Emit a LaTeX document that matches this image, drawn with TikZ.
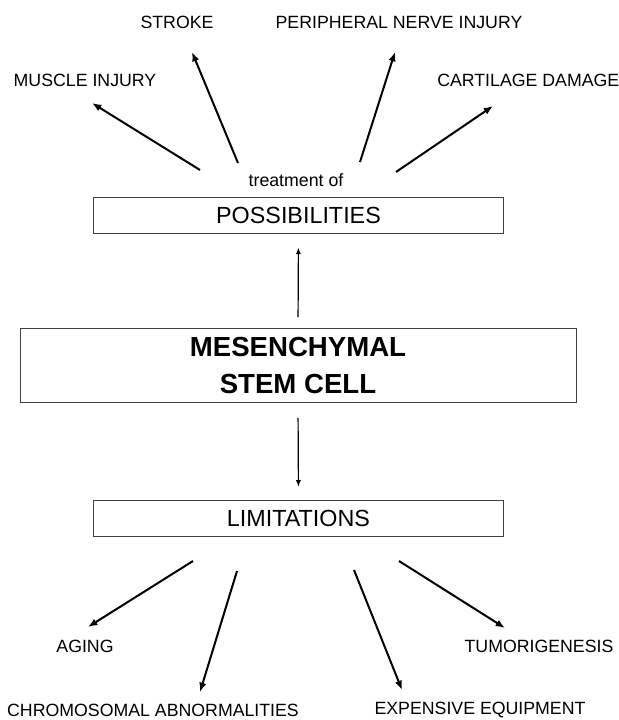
\documentclass[tikz,border=0pt]{standalone}
\usepackage{fontspec}
\setmainfont{Liberation Sans}
\usetikzlibrary{arrows.meta}

\begin{document}
\begin{tikzpicture}[
  x=0.75pt,y=-0.75pt,
  lbl/.style={inner sep=0pt,font=\fontsize{13.3}{16}\selectfont},
  box/.style={draw=black!75,line width=0.7pt,minimum width=308pt,minimum height=27pt,
    inner sep=0pt,font=\fontsize{17.5}{21}\selectfont},
  cellbox/.style={box,minimum width=417pt,minimum height=56pt,align=center,
    font=\fontsize{20.7}{27.8}\selectfont\bfseries},
  ray/.style={-{Latex[length=7pt,width=5.5pt]},line width=1.5pt},
  link/.style={-{Latex[length=5pt,width=3.8pt]},line width=0.9pt},
]
\useasboundingbox (0,0) rectangle (618,720);

% boxes
\node[box] (poss) at (298.5,215) {POSSIBILITIES};
\node[cellbox] (msc) at (298,365.5) {MESENCHYMAL\\STEM CELL};
\node[box] (lim) at (298.5,518) {LIMITATIONS};
\draw[link,shorten <=8pt,shorten >=10.5pt] (msc.north) -- (poss.south);
\draw[link,shorten <=11pt,shorten >=9.5pt] (msc.south) -- (lim.north);

% possibilities
\node[lbl] (treat) at (296,180) {treatment of};
\node[lbl] (muscle) at (85,80) {MUSCLE INJURY};
\node[lbl] (stroke) at (177,22) {STROKE};
\node[lbl] (nerve) at (399,22) {PERIPHERAL NERVE INJURY};
\node[lbl,anchor=west] (cart) at (437,80) {CARTILAGE DAMAGE};
\coordinate (t1) at (200,170);
\coordinate (t2) at (238,163);
\coordinate (t3) at (360,162);
\coordinate (t4) at (396,172);
\coordinate (h1) at (92,103);
\coordinate (h2) at (192,52);
\coordinate (h3) at (395,52);
\coordinate (h4) at (493,106);
\draw[ray] (t1) -- (h1);
\draw[ray] (t2) -- (h2);
\draw[ray] (t3) -- (h3);
\draw[ray] (t4) -- (h4);

% limitations
\node[lbl] (aging) at (85,646) {AGING};
\node[lbl] (chrom) at (153,710) {CHROMOSOMAL ABNORMALITIES};
\node[lbl] (equip) at (480,710) {EXPENSIVE EQUIPMENT};
\node[lbl] (tumor) at (539,646) {TUMORIGENESIS};
\coordinate (l1) at (193,561);
\coordinate (l2) at (237,571);
\coordinate (l3) at (354,570);
\coordinate (l4) at (399,561);
\coordinate (e1) at (88,627);
\coordinate (e2) at (200,692);
\coordinate (e3) at (402,690);
\coordinate (e4) at (505,628);
\draw[ray] (l1) -- (e1);
\draw[ray] (l2) -- (e2);
\draw[ray] (l3) -- (e3);
\draw[ray] (l4) -- (e4);
\end{tikzpicture}
\end{document}
